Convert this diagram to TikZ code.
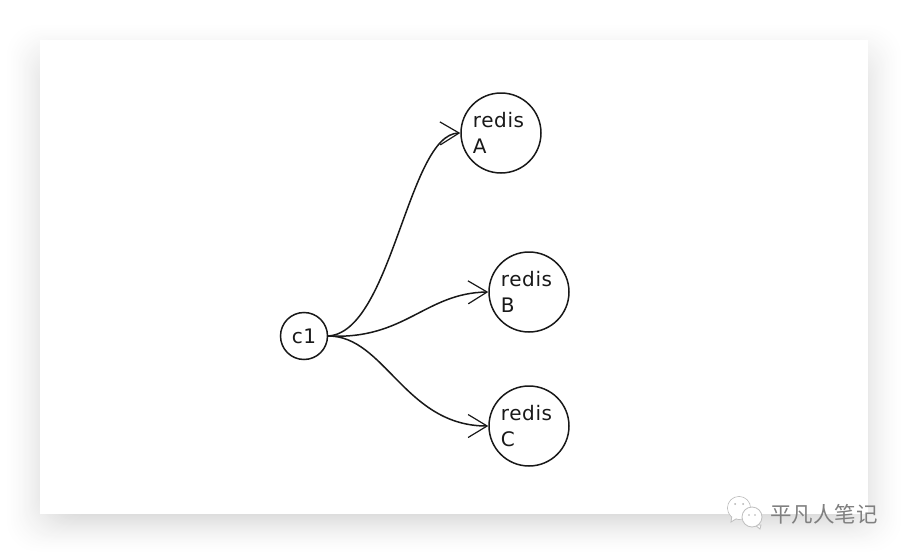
\documentclass[tikz,border=0pt]{standalone}
\usepackage{fontspec}
\usetikzlibrary{arrows.meta}
\newfontfamily\lblfont[LetterSpace=3]{DejaVu Sans}
\newfontfamily\cjkfont{Noto Sans CJK SC}
\definecolor{ink}{gray}{0.1}
\tikzset{
  server/.style={circle,draw=ink,line width=1.5pt,fill=white,minimum size=80pt,inner sep=0pt,align=left,font=\lblfont\fontsize{20}{26}\selectfont,text=ink},
  client/.style={circle,draw=ink,line width=1.5pt,fill=white,minimum size=47pt,inner sep=0pt,font=\lblfont\fontsize{20}{26}\selectfont,text=ink},
  link/.style={draw=ink,line width=1.5pt,-{Straight Barb[length=19pt,width=23pt,line width=1.2pt]}},
  bubble/.style={fill=white,draw=black!25,line width=0.8pt}
}
\begin{document}
\begin{tikzpicture}[x=1pt,y=-1pt]
\useasboundingbox (0,0) rectangle (908,554);
\fill[white] (0,0) rectangle (908,554);
% soft shadow of the card: opaque nested shades, outermost first
\foreach \k in {40,39,...,0}{
  \pgfmathsetmacro{\t}{\k/40}
  \pgfmathsetmacro{\g}{100-13.5*pow(1-\t,1.6)}
  \fill[black!\g!white,fill=white!\g!black,rounded corners=30pt]
    ({52-48*\t},{66-44*\t}) rectangle ({856+48*\t},{514+40*\t});
}
% card
\fill[white] (40,40) rectangle (868,514);
% nodes
\node[server] (a) at (501,133) {redis\hspace*{5pt}\\A};
\node[server] (b) at (529,292) {redis\hspace*{5pt}\\B};
\node[server] (c) at (529,426) {redis\hspace*{5pt}\\C};
\node[client] (c1) at (304,336) {c1};
% connectors
\draw[link] (c1.east) .. controls (392,332) and (408,134) .. (a.west);
\draw[link] (c1.east) .. controls (405,340) and (425,293) .. (b.west);
\draw[link] (c1.east) .. controls (385,336) and (405,426) .. (c.west);
% watermark
\draw[bubble] (739,508) circle (11.5pt);
\fill[bubble] (732,515) -- (731,522) -- (739,517) -- cycle;
\fill[white] (739,508) circle (11pt);
\fill[black!30] (735,504) circle (1pt) (743,504) circle (1pt);
\fill[bubble] (761,525) -- (760,529) -- (755,525) -- cycle;
\draw[bubble] (752,517) circle (10pt);
\fill[black!30] (749,515) circle (0.9pt) (755,515) circle (0.9pt);
\node[inner sep=0pt,text=black!50,font=\cjkfont\fontsize{21.5}{24}\selectfont] (mark) at (824,514) {平凡人笔记};
\end{tikzpicture}
\end{document}
